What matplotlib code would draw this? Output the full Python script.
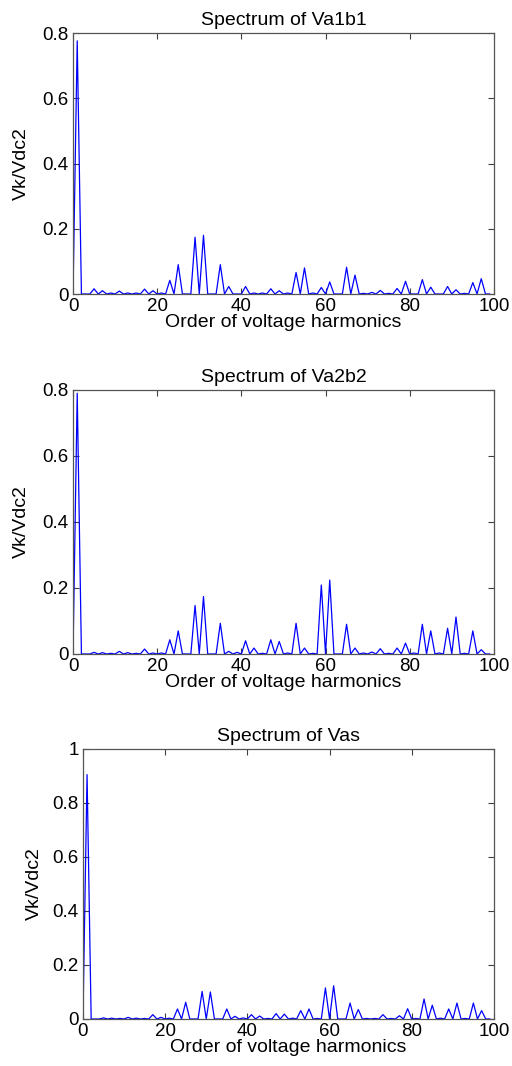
import matplotlib
matplotlib.use("Agg")
import matplotlib.pyplot as plt
import numpy as np
from matplotlib.ticker import FuncFormatter

plt.rcParams['font.family'] = ['Liberation Sans', 'DejaVu Sans']

# harmonic order 0..99, only odd orders carry amplitude
orders = np.arange(0, 100)
odd = np.arange(1, 100, 2)

# odd harmonics 1,3,5,...,99
va1b1_odd = [0.776, 0.0, 0.016, 0.010, 0.003, 0.009, 0.003, 0.003, 0.015, 0.010,
             0.003, 0.042, 0.090, 0.0, 0.174, 0.180, 0.0, 0.090, 0.023, 0.0,
             0.023, 0.003, 0.003, 0.016, 0.010, 0.003, 0.066, 0.080, 0.003, 0.020,
             0.037, 0.0, 0.082, 0.058, 0.002, 0.005, 0.011, 0.002, 0.017, 0.039,
             0.0, 0.044, 0.021, 0.0, 0.023, 0.013, 0.002, 0.035, 0.047, 0.0]
va2b2_odd = [0.790, 0.0, 0.005, 0.004, 0.002, 0.008, 0.004, 0.002, 0.015, 0.003,
             0.003, 0.043, 0.070, 0.0, 0.147, 0.174, 0.0, 0.093, 0.008, 0.005,
             0.040, 0.018, 0.002, 0.043, 0.038, 0.003, 0.093, 0.018, 0.002, 0.209,
             0.224, 0.0, 0.090, 0.018, 0.003, 0.006, 0.016, 0.002, 0.018, 0.033,
             0.003, 0.090, 0.070, 0.003, 0.078, 0.112, 0.002, 0.070, 0.013, 0.0]
vas_odd = [0.905, 0.0, 0.004, 0.003, 0.002, 0.006, 0.003, 0.002, 0.016, 0.006,
           0.003, 0.037, 0.062, 0.0, 0.102, 0.100, 0.0, 0.037, 0.010, 0.004,
           0.016, 0.011, 0.002, 0.020, 0.018, 0.003, 0.031, 0.037, 0.002, 0.115,
           0.123, 0.0, 0.059, 0.035, 0.002, 0.002, 0.016, 0.002, 0.012, 0.038,
           0.002, 0.074, 0.051, 0.003, 0.037, 0.059, 0.002, 0.059, 0.031, 0.0]

titles = ["Spectrum of Va1b1", "Spectrum of Va2b2", "Spectrum of Vas"]
ymax = [0.8, 0.8, 1.0]
series = [va1b1_odd, va2b2_odd, vas_odd]

rects = [[0.1426, 0.7242, 0.822, 0.2448],
         [0.1426, 0.3865, 0.822, 0.2477],
         [0.1620, 0.0441, 0.8027, 0.2533]]
ylab_x = [-0.102, -0.102, -0.097]

fig = plt.figure(figsize=(5.12, 10.66), dpi=100)

for k in range(3):
    amp = np.zeros(len(orders))
    amp[odd] = series[k]
    ax = fig.add_axes(rects[k])
    ax.plot(orders, amp, color='#0000ff', lw=0.9)
    ax.set_xlim(0, 100)
    ax.set_ylim(0, ymax[k])
    ax.set_xticks(np.arange(0, 101, 20))
    ax.set_yticks(np.arange(0, ymax[k] + 0.01, 0.2))
    ax.yaxis.set_major_formatter(FuncFormatter(lambda v, p: '%g' % round(v, 2)))
    ax.tick_params(direction='in', top=True, right=True, length=4,
                   labelsize=13.5, color='#404040', pad=3)
    for s in ax.spines.values():
        s.set_color('#555555')
        s.set_linewidth(0.9)
    ax.set_title(titles[k], fontsize=14, pad=6)
    ax.set_xlabel("Order of voltage harmonics", fontsize=14, labelpad=-1)
    ax.set_ylabel("Vk/Vdc2", fontsize=14)
    ax.yaxis.set_label_coords(ylab_x[k], 0.5)

plt.savefig("out.png", dpi=100)
